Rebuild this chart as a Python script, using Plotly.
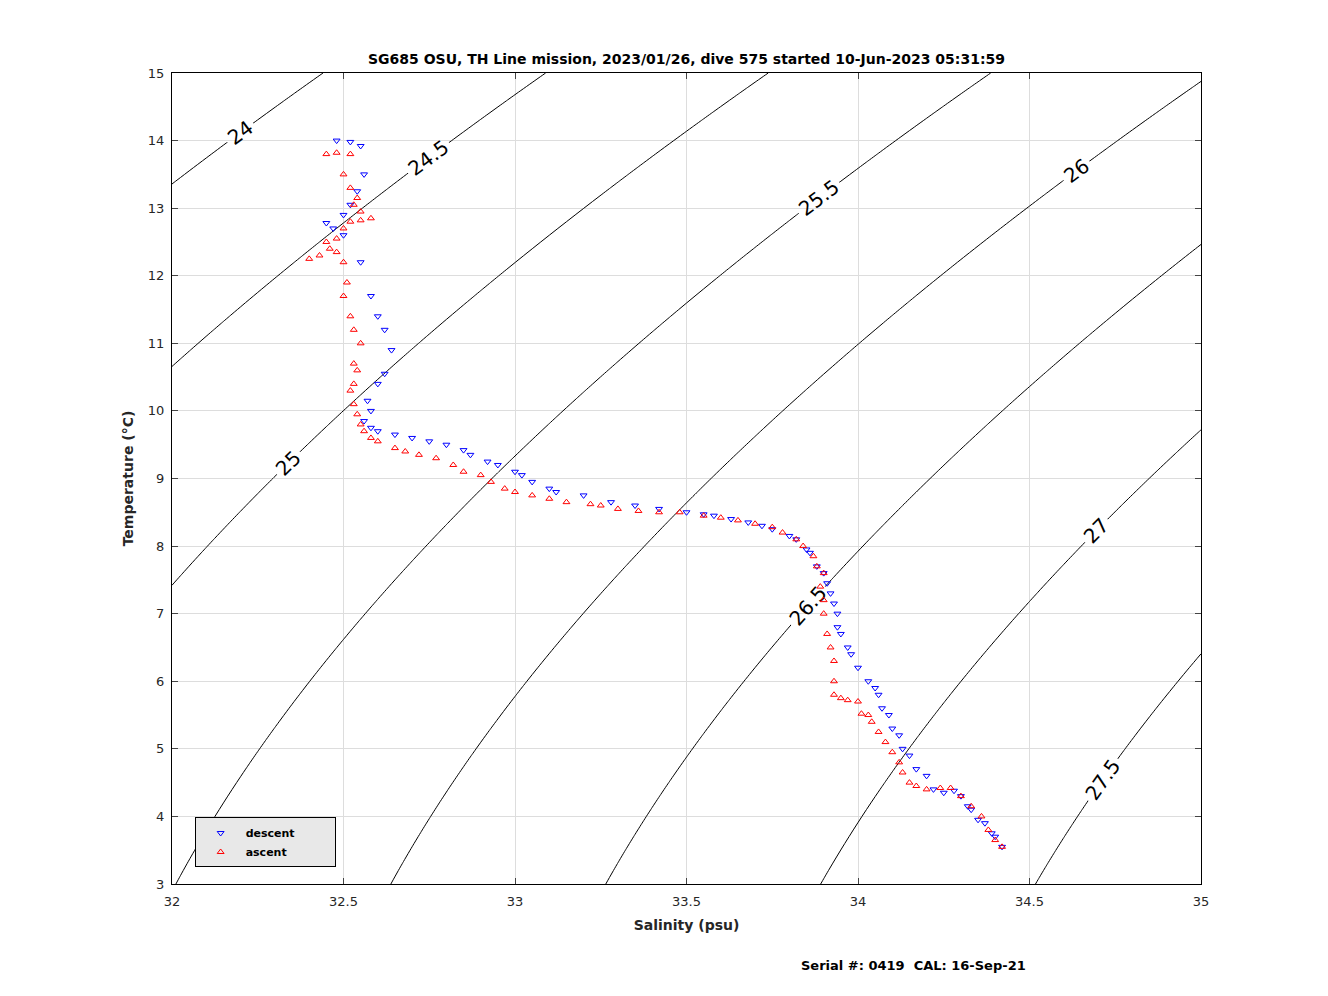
import numpy as np
import plotly.graph_objects as go

desc_S = [32.48,32.52,32.55,32.56,32.54,32.52,32.5,32.45,32.47,32.5,32.55,32.58,32.6,32.62,32.64,32.62,32.6,32.57,32.58,32.56,32.58,32.6,32.65,32.7,32.75,32.8,32.85,32.87,32.92,32.95,33.0,33.02,33.05,33.1,33.12,33.2,33.28,33.35,33.42,33.5,33.55,33.58,33.63,33.68,33.72,33.75,33.8,33.82,33.85,33.86,33.88,33.9,33.91,33.92,33.93,33.94,33.94,33.95,33.97,33.98,34.0,34.03,34.05,34.06,34.07,34.09,34.1,34.12,34.13,34.15,34.17,34.2,34.22,34.25,34.28,34.3,34.32,34.33,34.35,34.37,34.39,34.4,34.42]
desc_T = [14.0,13.98,13.92,13.5,13.25,13.05,12.9,12.78,12.7,12.6,12.2,11.7,11.4,11.2,10.9,10.55,10.4,10.15,10.0,9.85,9.75,9.7,9.65,9.6,9.55,9.5,9.42,9.35,9.25,9.2,9.1,9.05,8.95,8.85,8.8,8.75,8.65,8.6,8.55,8.5,8.47,8.45,8.4,8.35,8.3,8.25,8.15,8.1,7.95,7.9,7.7,7.6,7.45,7.3,7.15,7.0,6.8,6.7,6.5,6.4,6.2,6.0,5.9,5.8,5.6,5.5,5.3,5.2,5.0,4.9,4.7,4.6,4.4,4.35,4.38,4.3,4.15,4.1,3.95,3.9,3.75,3.7,3.55]
asc_S = [34.42,34.4,34.38,34.36,34.33,34.3,34.27,34.24,34.2,34.17,34.15,34.13,34.12,34.1,34.08,34.06,34.04,34.03,34.01,34.0,33.97,33.95,33.93,33.93,33.93,33.92,33.91,33.9,33.9,33.89,33.9,33.88,33.87,33.84,33.82,33.78,33.75,33.7,33.65,33.6,33.55,33.48,33.42,33.36,33.3,33.25,33.22,33.15,33.1,33.05,33.0,32.97,32.93,32.9,32.85,32.82,32.77,32.72,32.68,32.65,32.6,32.58,32.56,32.55,32.54,32.53,32.52,32.53,32.54,32.53,32.55,32.53,32.52,32.5,32.51,32.5,32.48,32.46,32.43,32.4,32.45,32.48,32.5,32.52,32.55,32.58,32.55,32.53,32.54,32.52,32.5,32.52,32.48,32.45]
asc_T = [3.55,3.65,3.8,4.0,4.15,4.3,4.42,4.42,4.4,4.45,4.5,4.65,4.8,4.95,5.1,5.25,5.4,5.5,5.52,5.7,5.72,5.75,5.8,6.0,6.3,6.5,6.7,7.0,7.2,7.4,7.6,7.7,7.85,8.0,8.1,8.2,8.28,8.33,8.38,8.42,8.45,8.5,8.5,8.52,8.55,8.6,8.62,8.65,8.7,8.75,8.8,8.85,8.95,9.05,9.1,9.2,9.3,9.35,9.4,9.45,9.55,9.6,9.7,9.8,9.95,10.1,10.3,10.4,10.6,10.7,11.0,11.2,11.4,11.7,11.9,12.2,12.35,12.4,12.3,12.25,12.5,12.55,12.7,12.8,12.82,12.85,12.95,13.05,13.15,13.3,13.5,13.8,13.82,13.8]

sigma_levels = [24, 27.5, 0.5]
S_grid = np.linspace(32, 35, 121)
T_grid = np.linspace(3, 15, 121)

def sigma_t(S, T):
    rw = (999.842594 + 6.793952e-2*T - 9.095290e-3*T**2 + 1.001685e-4*T**3
          - 1.120083e-6*T**4 + 6.536332e-9*T**5)
    A = 8.24493e-1 - 4.0899e-3*T + 7.6438e-5*T**2 - 8.2467e-7*T**3 + 5.3875e-9*T**4
    B = -5.72466e-3 + 1.0227e-4*T - 1.6546e-6*T**2
    C = 4.8314e-4
    return rw + A*S + B*S**1.5 + C*S**2 - 1000

SS, TT = np.meshgrid(S_grid, T_grid)
Z = sigma_t(SS, TT)

fig = go.Figure()
fig.add_trace(go.Contour(
    x=S_grid, y=T_grid, z=Z, showscale=False, hoverinfo="skip",
    contours=dict(start=sigma_levels[0], end=sigma_levels[1], size=sigma_levels[2],
                  coloring="lines", showlabels=True,
                  labelfont=dict(size=20, color="black", family="DejaVu Sans")),
    colorscale=[[0, "black"], [1, "black"]], line=dict(width=1),
))
fig.add_trace(go.Scatter(x=desc_S, y=desc_T, mode="markers", name="<b>descent</b>          ",
    marker=dict(symbol="triangle-down-open", size=6, color="blue", line=dict(width=1))))
fig.add_trace(go.Scatter(x=asc_S, y=asc_T, mode="markers", name="<b>ascent</b>",
    marker=dict(symbol="triangle-up-open", size=6, color="red", line=dict(width=1))))

axis = dict(showgrid=True, gridcolor="#dddddd", showline=True, linecolor="black", mirror="ticks",
            ticks="inside", ticklen=6, zeroline=False,
            tickfont=dict(size=13, family="DejaVu Sans", color="#262626"))
fig.update_layout(
    width=1328, height=996, plot_bgcolor="white", paper_bgcolor="white",
    margin=dict(l=164, r=135, t=65, b=120),
    font=dict(family="DejaVu Sans", color="#262626"),
    title=dict(text="<b>SG685 OSU, TH Line mission, 2023/01/26, dive 575 started 10-Jun-2023 05:31:59</b>",
               x=0.5, xref="paper", y=1-51/996, yanchor="middle", font=dict(size=14, color="black")),
    xaxis=dict(axis, range=[32, 35], tickvals=[32,32.5,33,33.5,34,34.5,35], ticklabelstandoff=5,
               title=dict(text="<b>Salinity (psu)</b>", font=dict(size=14), standoff=12)),
    yaxis=dict(axis, range=[3, 15], dtick=1, ticklabelstandoff=4,
               title=dict(text="<b>Temperature (°C)</b>", font=dict(size=14), standoff=10)),
    legend=dict(x=0.022, y=0.082, xanchor="left", yanchor="top", bgcolor="#e8e8e8",
                bordercolor="black", borderwidth=1, font=dict(size=11, color="black"),
                itemwidth=40, tracegroupgap=0),
    showlegend=True,
    annotations=[dict(text="<b>Serial #: 0419  CAL: 16-Sep-21</b>", showarrow=False,
                      xref="paper", yref="paper", x=(913-172)/1029, y=(884-966)/811,
                      xanchor="center", yanchor="middle", font=dict(size=13, color="black"))],
)
fig.write_html("out.html")
